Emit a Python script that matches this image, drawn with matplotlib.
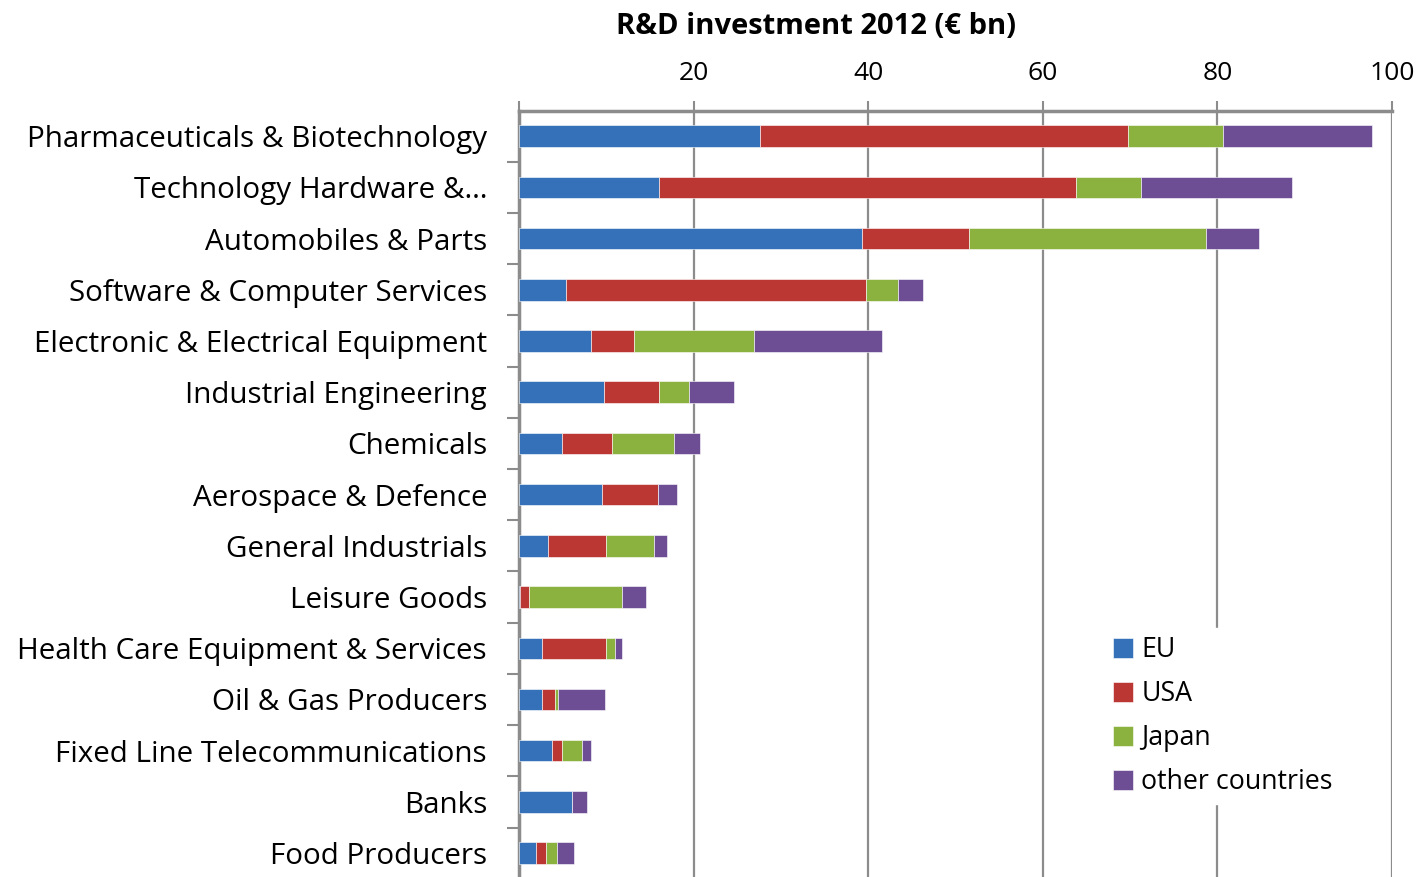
import numpy as np
import matplotlib.pyplot as plt

# sectors, top to bottom
sectors = ['Pharmaceuticals & Biotechnology', 'Technology Hardware &\u2026',
           'Automobiles & Parts', 'Software & Computer Services',
           'Electronic & Electrical Equipment', 'Industrial Engineering',
           'Chemicals', 'Aerospace & Defence', 'General Industrials',
           'Leisure Goods', 'Health Care Equipment & Services',
           'Oil & Gas Producers', 'Fixed Line Telecommunications',
           'Banks', 'Food Producers']

# R&D investment 2012, EUR bn
eu = [27.6, 16.0, 39.3, 5.4, 8.3, 9.7, 4.9, 9.5, 3.3, 0.1, 2.6, 2.6, 3.8, 6.1, 1.9]
usa = [42.1, 47.8, 12.3, 34.4, 4.9, 6.3, 5.8, 6.4, 6.7, 1.1, 7.4, 1.5, 1.1, 0.0, 1.2]
japan = [10.9, 7.5, 27.1, 3.6, 13.7, 3.5, 7.1, 0.0, 5.5, 10.6, 1.0, 0.4, 2.3, 0.0, 1.3]
other = [17.1, 17.2, 6.1, 2.9, 14.7, 5.1, 2.9, 2.2, 1.5, 2.8, 0.8, 5.3, 1.0, 1.7, 1.9]

series = [('EU', eu, '#3571b8'), ('USA', usa, '#bb3734'),
          ('Japan', japan, '#8bb13f'), ('other countries', other, '#6d4e94')]

plt.rcParams['font.family'] = ['Open Sans', 'DejaVu Sans']
grey = '#8c8c8c'

fig = plt.figure(figsize=(14.2, 8.77), dpi=100)
ax = fig.add_axes([0.3655, -0.002, 0.6148, 0.876])

y = np.arange(len(sectors))
left = np.zeros(len(sectors))
for name, vals, col in series:
    vals = np.array(vals)
    ax.barh(y, vals, left=left, height=0.42, color=col, label=name,
            edgecolor='white', linewidth=0.4, zorder=3)
    left += vals

ax.set_xlim(0, 100)
ax.set_ylim(len(sectors) - 0.5, -0.5)

ax.xaxis.tick_top()
ax.set_xticks([0, 20, 40, 60, 80, 100])
ax.set_xticklabels(['', '20', '40', '60', '80', '100'], fontsize=19)
ax.tick_params(axis='x', length=7, width=1.5, color=grey, pad=11)
ax.grid(axis='x', color=grey, linewidth=1.6, zorder=0)

ax.set_yticks(y)
ax.set_yticklabels(sectors, fontsize=21.3)
ax.set_yticks(np.arange(len(sectors)) + 0.5, minor=True)
ax.tick_params(axis='y', which='major', length=0, pad=23)
ax.tick_params(axis='y', which='minor', length=9, width=1.5, color=grey)

for s in ['right', 'bottom']:
    ax.spines[s].set_visible(False)
for s in ['left', 'top']:
    ax.spines[s].set_color(grey)
    ax.spines[s].set_linewidth(2.5)

fig.text(0.575, 0.970, 'R&D investment 2012 (\u20ac bn)', fontsize=21,
         fontweight='bold', ha='center', va='center')

leg = ax.legend(loc='upper left', bbox_to_anchor=(1105 / 1420, 1 - 628 / 877),
                bbox_transform=fig.transFigure, frameon=True, fontsize=19.3,
                handlelength=0.75, handleheight=0.75, handletextpad=0.3,
                labelspacing=0.6, borderpad=0.3, borderaxespad=0)
leg.get_frame().set_edgecolor('white')
leg.get_frame().set_facecolor('white')
leg.get_frame().set_alpha(1)
leg.set_zorder(5)

fig.savefig('out.png', dpi=100)
